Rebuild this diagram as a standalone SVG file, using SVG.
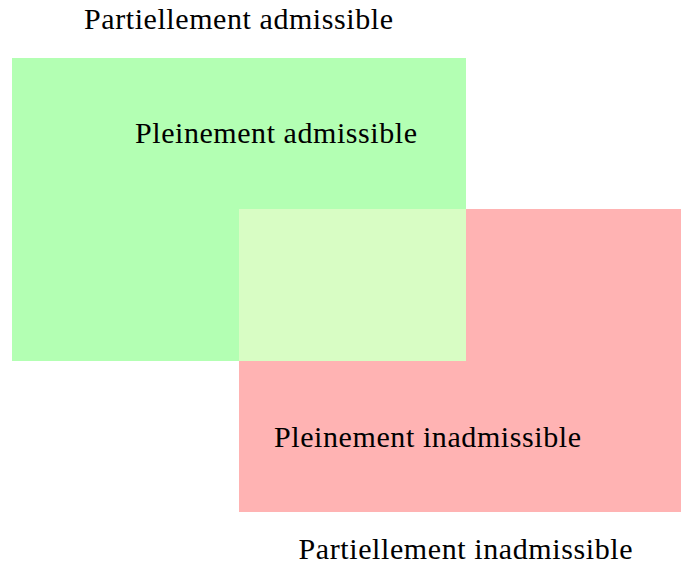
<svg xmlns="http://www.w3.org/2000/svg" width="681" height="565" viewBox="0 0 681 565">
<style>
text { font-family: "Liberation Serif", "DejaVu Serif", serif; font-size: 30px; fill: #000; text-anchor: middle; }
</style>
<rect width="681" height="565" fill="#ffffff"/>
<g id="admissible">
<rect x="12" y="58" width="454" height="303" fill="#b3ffb3"/>
</g>
<g id="inadmissible">
<rect x="239" y="209" width="442" height="303" fill="#ffb3b3"/>
</g>
<g id="overlap">
<rect x="239" y="209" width="227" height="152" fill="#d8fdc4"/>
</g>
<g id="labels">
<text x="238.5" y="29" textLength="309" lengthAdjust="spacing">Partiellement admissible</text>
<text x="276" y="143" textLength="282" lengthAdjust="spacing">Pleinement admissible</text>
<text x="427.5" y="447" textLength="307" lengthAdjust="spacing">Pleinement inadmissible</text>
<text x="465.5" y="559" textLength="334" lengthAdjust="spacing">Partiellement inadmissible</text>
</g>
</svg>
